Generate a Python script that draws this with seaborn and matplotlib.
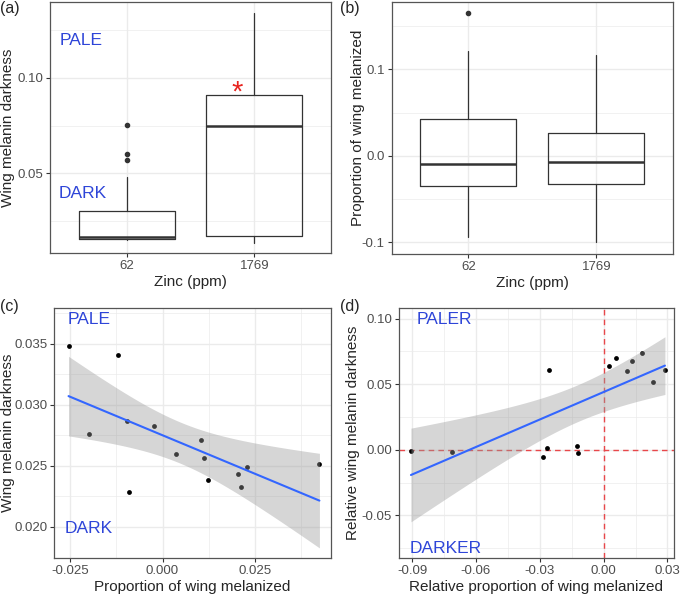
import matplotlib
matplotlib.use("Agg")
import matplotlib.pyplot as plt
import numpy as np
import seaborn as sns

# ---- data ----
zinc_groups = ["62", "1769"]

# (a) wing melanin darkness by zinc treatment
a_whislo = [0.0151, 0.0134]
a_q1 = [0.0155, 0.0174]
a_med = [0.0169, 0.0749]
a_q3 = [0.0303, 0.0910]
a_whishi = [0.0482, 0.1336]
a_fliers = [[0.0752, 0.0601, 0.0570], []]

# (b) proportion of wing melanized by zinc treatment
b_whislo = [-0.0942, -0.1000]
b_q1 = [-0.0347, -0.0324]
b_med = [-0.0095, -0.0077]
b_q3 = [0.0425, 0.0268]
b_whishi = [0.1215, 0.1165]
b_fliers = [[0.1647], []]

# (c) darkness vs proportion melanized
c_prop = [-0.0254, -0.0120, -0.0200, -0.0096, -0.0090, -0.0022, 0.0037,
          0.0103, 0.0113, 0.0123, 0.0204, 0.0211, 0.0229, 0.0424]
c_dark = [0.0348, 0.0341, 0.02765, 0.02869, 0.02285, 0.02828, 0.02601,
          0.0271, 0.02568, 0.02385, 0.02437, 0.02331, 0.02489, 0.02519]

# (d) relative darkness vs relative proportion melanized
d_prop = [-0.0905, -0.0714, -0.0287, -0.0266, -0.0255, -0.0125, -0.0121,
          0.0023, 0.0056, 0.0111, 0.0133, 0.0178, 0.0232, 0.0288]
d_dark = [-0.0013, -0.0015, -0.0058, 0.0010, 0.0607, 0.0030, -0.0023,
          0.0637, 0.0701, 0.0602, 0.0673, 0.0739, 0.0513, 0.0607]

# ---- style ----
sns.set_theme(style="white")
plt.rcParams["font.family"] = ["Liberation Sans", "DejaVu Sans"]
plt.rcParams["axes.unicode_minus"] = False

TEXT_BLUE = "#2E45D8"
EDGE = "#333333"
GRID = "#EBEBEB"
TICKLAB = "#4D4D4D"
T975_DF12 = 2.1788  # t quantile for a 95% band with n = 14 points


def style_axes(ax):
    ax.set_facecolor("white")
    for sp in ax.spines.values():
        sp.set_color("#555555")
        sp.set_linewidth(0.9)
    ax.grid(True, which="major", color=GRID, linewidth=1.0, zorder=0)
    ax.grid(True, which="minor", color=GRID, linewidth=0.5, zorder=0)
    ax.set_axisbelow(True)
    ax.tick_params(which="major", length=3, width=0.8, color=EDGE,
                   labelcolor=TICKLAB, labelsize=9.5, pad=2, bottom=True, left=True)
    ax.tick_params(which="minor", length=0)


def set_ylab(ax, text, xpos):
    # centre of the rotated label sits at xpos (axes fraction)
    ax.set_ylabel(text, fontsize=11, va="center")
    ax.yaxis.set_label_coords(xpos, 0.5)


def box_stats(whislo, q1, med, q3, whishi, fliers):
    return [dict(whislo=whislo[i], q1=q1[i], med=med[i], q3=q3[i],
                 whishi=whishi[i], fliers=fliers[i]) for i in range(len(med))]


def draw_box(ax, stats):
    ax.bxp(stats, positions=[1, 2], widths=0.75, showfliers=True,
           boxprops=dict(color=EDGE, linewidth=0.9),
           medianprops=dict(color=EDGE, linewidth=1.8),
           whiskerprops=dict(color=EDGE, linewidth=0.9),
           capprops=dict(linewidth=0),
           flierprops=dict(marker="o", markerfacecolor=EDGE, markeredgecolor=EDGE,
                           markersize=3.0))
    ax.set_xlim(0.4, 2.6)
    ax.set_xticks([1, 2])
    ax.set_xticklabels(zinc_groups)


def draw_reg(ax, x, y):
    sns.regplot(x=x, y=y, ax=ax, ci=None,
                scatter_kws=dict(color="black", s=12, linewidths=0, alpha=1, zorder=2),
                line_kws=dict(color="#3366FF", linewidth=1.5, zorder=4))
    # lm confidence band like ggplot's geom_smooth(method = "lm")
    x = np.asarray(x)
    y = np.asarray(y)
    n = len(x)
    slope, icpt = np.polyfit(x, y, 1)
    resid = y - (slope * x + icpt)
    s = np.sqrt(np.sum(resid ** 2) / (n - 2))
    xs = np.linspace(x.min(), x.max(), 100)
    yhat = slope * xs + icpt
    se = s * np.sqrt(1 / n + (xs - x.mean()) ** 2 / np.sum((x - x.mean()) ** 2))
    ax.fill_between(xs, yhat - T975_DF12 * se, yhat + T975_DF12 * se,
                    color="#999999", alpha=0.4, linewidth=0, zorder=3)


fig = plt.figure(figsize=(6.8, 5.98), dpi=100)
ax_a = fig.add_axes([0.0735, 0.577, 0.4133, 0.420])
ax_b = fig.add_axes([0.576, 0.575, 0.414, 0.422])
ax_c = fig.add_axes([0.0799, 0.0669, 0.4069, 0.4181])
ax_d = fig.add_axes([0.5868, 0.0669, 0.4042, 0.4181])

# (a)
style_axes(ax_a)
draw_box(ax_a, box_stats(a_whislo, a_q1, a_med, a_q3, a_whishi, a_fliers))
ax_a.set_ylim(0.0084, 0.1397)
ax_a.set_yticks([0.05, 0.10])
ax_a.set_yticklabels(["0.05", "0.10"])
ax_a.set_yticks([0.025, 0.075, 0.125], minor=True)
ax_a.set_xlabel("Zinc (ppm)", fontsize=11, labelpad=2)
set_ylab(ax_a, "Wing melanin darkness", -0.149)
ax_a.text(0.478, 0.1197, "PALE", color=TEXT_BLUE, fontsize=12.5, ha="left", va="center")
ax_a.text(0.465, 0.0396, "DARK", color=TEXT_BLUE, fontsize=12.5, ha="left", va="center")
ax_a.text(1.866, 0.0925, "*", color="#E8231F", fontsize=21, ha="center", va="center")

# (b)
style_axes(ax_b)
draw_box(ax_b, box_stats(b_whislo, b_q1, b_med, b_q3, b_whishi, b_fliers))
ax_b.set_ylim(-0.1135, 0.1778)
ax_b.set_yticks([-0.1, 0.0, 0.1])
ax_b.set_yticklabels(["-0.1", "0.0", "0.1"])
ax_b.set_yticks([-0.05, 0.05, 0.15], minor=True)
ax_b.set_xlabel("Zinc (ppm)", fontsize=11, labelpad=2)
set_ylab(ax_b, "Proportion of wing melanized", -0.119)

# (c)
style_axes(ax_c)
draw_reg(ax_c, c_prop, c_dark)
ax_c.set_xlim(-0.02924, 0.04554)
ax_c.set_ylim(0.01746, 0.03793)
ax_c.set_xticks([-0.025, 0.0, 0.025])
ax_c.set_xticklabels(["-0.025", "0.000", "0.025"])
ax_c.set_xticks([-0.0125, 0.0125, 0.0375], minor=True)
ax_c.set_yticks([0.020, 0.025, 0.030, 0.035])
ax_c.set_yticklabels(["0.020", "0.025", "0.030", "0.035"])
ax_c.set_yticks([0.0175, 0.0225, 0.0275, 0.0325, 0.0375], minor=True)
ax_c.set_xlabel("Proportion of wing melanized", fontsize=11, labelpad=2)
set_ylab(ax_c, "Wing melanin darkness", -0.167)
ax_c.text(-0.0256, 0.03697, "PALE", color=TEXT_BLUE, fontsize=12.5, ha="left", va="center")
ax_c.text(-0.0264, 0.0199, "DARK", color=TEXT_BLUE, fontsize=12.5, ha="left", va="center")

# (d)
style_axes(ax_d)
ax_d.axhline(0, color="#E8474A", linestyle=(0, (4, 3)), linewidth=1.0, zorder=1)
ax_d.axvline(0, color="#E8474A", linestyle=(0, (4, 3)), linewidth=1.0, zorder=1)
draw_reg(ax_d, d_prop, d_dark)
ax_d.set_xlim(-0.0961, 0.0330)
ax_d.set_ylim(-0.0825, 0.1081)
ax_d.set_xticks([-0.09, -0.06, -0.03, 0.0, 0.03])
ax_d.set_xticklabels(["-0.09", "-0.06", "-0.03", "0.00", "0.03"])
ax_d.set_xticks([-0.075, -0.045, -0.015, 0.015], minor=True)
ax_d.set_yticks([-0.05, 0.0, 0.05, 0.10])
ax_d.set_yticklabels(["-0.05", "0.00", "0.05", "0.10"])
ax_d.set_yticks([-0.075, -0.025, 0.025, 0.075], minor=True)
ax_d.set_xlabel("Relative proportion of wing melanized", fontsize=11, labelpad=2)
set_ylab(ax_d, "Relative wing melanin darkness", -0.166)
ax_d.text(-0.0878, 0.0992, "PALER", color=TEXT_BLUE, fontsize=12.5, ha="left", va="center")
ax_d.text(-0.0913, -0.0749, "DARKER", color=TEXT_BLUE, fontsize=12.5, ha="left", va="center")

# panel letters
fig.text(0.0, 0.999, "(a)", fontsize=11.5, va="top", ha="left")
fig.text(0.5, 0.999, "(b)", fontsize=11.5, va="top", ha="left")
fig.text(0.0, 0.500, "(c)", fontsize=11.5, va="top", ha="left")
fig.text(0.5, 0.500, "(d)", fontsize=11.5, va="top", ha="left")

fig.savefig("out.png", dpi=100, facecolor="white")
